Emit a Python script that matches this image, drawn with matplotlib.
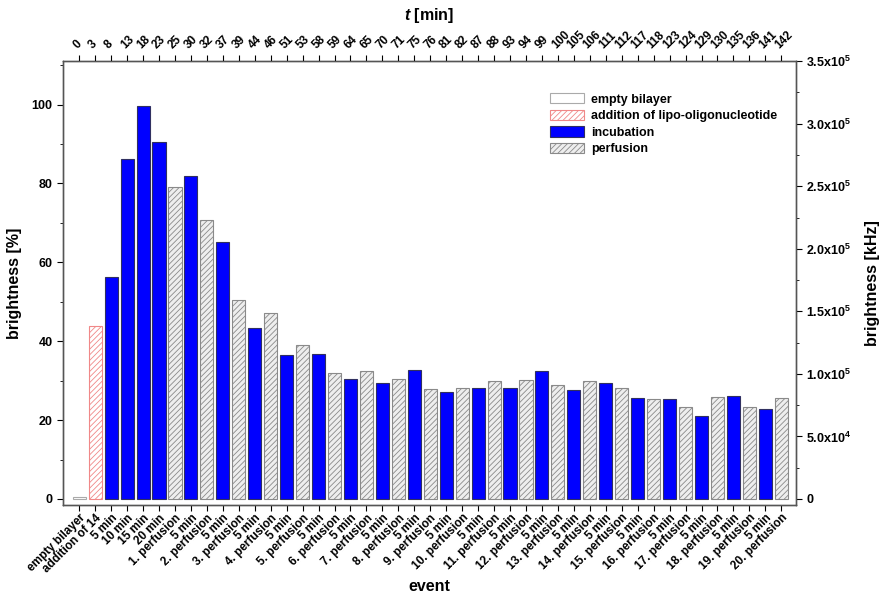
import matplotlib
matplotlib.use('Agg')
import numpy as np
import matplotlib.pyplot as plt
from matplotlib.patches import Patch
from matplotlib.ticker import MultipleLocator, FuncFormatter

plt.rcParams['font.family'] = ['Liberation Sans', 'DejaVu Sans']
plt.rcParams['font.weight'] = 'bold'
plt.rcParams['mathtext.fontset'] = 'custom'
plt.rcParams['mathtext.bf'] = 'Liberation Sans:bold'
plt.rcParams['mathtext.rm'] = 'Liberation Sans:bold'
plt.rcParams['mathtext.it'] = 'Liberation Sans:bold:italic'
plt.rcParams['hatch.linewidth'] = 0.6

# event labels (bottom axis)
events = ['empty bilayer', 'addition of 14', '5 min', '10 min', '15 min', '20 min',
          '1. perfusion']
for n in range(2, 21):
    events += ['5 min', '%d. perfusion' % n]

# time in minutes (top axis)
times = [0, 3, 8, 13, 18, 23, 25, 30, 32, 37, 39, 44, 46, 51, 53, 58, 59, 64, 65,
         70, 71, 75, 76, 81, 82, 87, 88, 93, 94, 99, 100, 105, 106, 111, 112, 117,
         118, 123, 124, 129, 130, 135, 136, 141, 142]

# brightness in percent
brightness = [0.4, 43.8, 56.4, 86.1, 99.6, 90.4, 79.0, 81.8, 70.7, 65.2, 50.4, 43.4,
              47.1, 36.5, 39.0, 36.7, 32.0, 30.5, 32.4, 29.3, 30.5, 32.7, 28.0, 27.0,
              28.2, 28.1, 30.0, 28.1, 30.2, 32.5, 29.0, 27.7, 30.0, 29.3, 28.2, 25.7,
              25.3, 25.4, 23.2, 21.1, 25.9, 26.0, 23.4, 22.7, 25.5]

kinds = []
for i, e in enumerate(events):
    if i == 0:
        kinds.append('empty')
    elif i == 1:
        kinds.append('addition')
    elif 'perfusion' in e:
        kinds.append('perfusion')
    else:
        kinds.append('incubation')

styles = {
    'empty': dict(facecolor='white', edgecolor='#aaaaaa', hatch=None),
    'addition': dict(facecolor='white', edgecolor='#f08888', hatch='//////'),
    'incubation': dict(facecolor='#0000ff', edgecolor='#303060', hatch=None),
    'perfusion': dict(facecolor='#eeeeee', edgecolor='#8a8a8a', hatch='//////'),
}
legend_names = {'empty': 'empty bilayer', 'addition': 'addition of lipo-oligonucleotide',
                'incubation': 'incubation', 'perfusion': 'perfusion'}

fig = plt.figure(figsize=(8.87, 5.94), dpi=100)
ax = fig.add_axes([0.071, 0.150, 0.826, 0.747])

x = np.arange(len(events))
for xi, val, k in zip(x, brightness, kinds):
    st = styles[k]
    ax.bar(xi, val, width=0.82, facecolor=st['facecolor'], edgecolor=st['edgecolor'],
           hatch=st['hatch'], linewidth=0.8, zorder=2)

ymin, ymax = -1.5, 111
khz_max = 3.5e5
ax.set_xlim(-1.02, len(events) - 0.1)
ax.set_ylim(ymin, ymax)
ax.set_xticks(x)
ax.set_xticklabels(events, rotation=45, ha='right', rotation_mode='anchor', fontsize=8.5)
ax.yaxis.set_major_locator(MultipleLocator(20))
ax.yaxis.set_minor_locator(MultipleLocator(10))
ax.tick_params(axis='y', labelsize=9, direction='out', length=4)
ax.tick_params(axis='y', which='minor', direction='out', length=2.5)
ax.tick_params(axis='x', direction='out', length=4, pad=1)
ax.set_ylabel('brightness [%]', fontsize=11.5, fontweight='bold', labelpad=7)
ax.set_xlabel('event', fontsize=11.5, fontweight='bold')
ax.xaxis.set_label_coords(0.5, -0.166)

# right axis in kHz
axr = ax.twinx()
axr.set_ylim(ymin * khz_max / ymax, khz_max)
axr.yaxis.set_major_locator(MultipleLocator(5e4))
axr.yaxis.set_minor_locator(MultipleLocator(2.5e4))


def khz_fmt(v, pos):
    if abs(v) < 1:
        return '0'
    e = int(np.floor(np.log10(abs(v))))
    return '%.1fx10$^{%d}$' % (v / 10 ** e, e)


axr.yaxis.set_major_formatter(FuncFormatter(khz_fmt))
axr.tick_params(axis='y', labelsize=9, direction='out', length=4)
axr.tick_params(axis='y', which='minor', direction='out', length=2.5)
axr.set_ylabel('brightness [kHz]', fontsize=11.5, fontweight='bold', labelpad=10)

# top axis with time
axt = ax.twiny()
axt.set_xlim(ax.get_xlim())
axt.set_xticks(x)
axt.set_xticklabels([str(t) for t in times], rotation=45, ha='left',
                    rotation_mode='anchor', fontsize=8.5)
axt.tick_params(axis='x', direction='out', length=4)
axt.set_xlabel('$\\it{t}$ [min]', fontsize=11.5, fontweight='bold', labelpad=6)

for a in (ax, axr, axt):
    for s in a.spines.values():
        s.set_color('#555555')
        s.set_linewidth(0.9)

handles = [Patch(facecolor=styles[k]['facecolor'], edgecolor=styles[k]['edgecolor'],
                 hatch=styles[k]['hatch'], linewidth=0.8, label=legend_names[k])
           for k in ['empty', 'addition', 'incubation', 'perfusion']]
ax.legend(handles=handles, loc='upper right', bbox_to_anchor=(0.985, 0.945),
          frameon=False, handlelength=2.7, handleheight=0.9,
          labelspacing=0.33, handletextpad=0.6, borderaxespad=0.2,
          prop={'weight': 'bold', 'size': 9})

fig.savefig('out.png', dpi=100)
